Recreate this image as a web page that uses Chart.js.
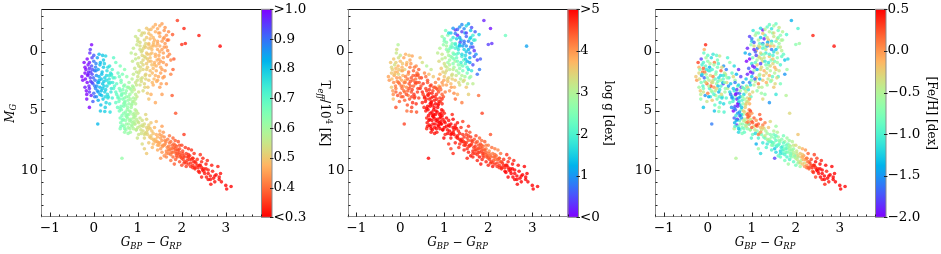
<!DOCTYPE html>
<html>
<head>
<meta charset="utf-8">
<script src="https://cdn.jsdelivr.net/npm/chart.js@4.4.1/dist/chart.umd.min.js"></script>
<style>
  html, body { margin: 0; padding: 0; background: #fff; }
  #wrap { position: relative; width: 941px; height: 254px; }
  canvas { position: absolute; left: 0; top: 0; }
</style>
</head>
<body>
<div id="wrap">
  <canvas id="teff-chart" width="941" height="254"></canvas>
  <canvas id="logg-chart" width="941" height="254"></canvas>
  <canvas id="feh-chart" width="941" height="254"></canvas>
</div>
<script>
// colour index G_BP - G_RP, one line per region of the diagram
const bpRp = [
  -0.05,-0.08,-0.15,-0.1,0.0,-0.2,-0.05,0.05,-0.12,-0.27,0.02,-0.08,0.06,-0.15,-0.02,-0.2,0.04,-0.1,-0.16,-0.1,0.0,-0.22,0.08,-0.04,0.09,-0.25,-0.06,0.1,-0.13,0.03,
  0.12,0.2,0.27,0.15,0.22,0.1,0.3,0.18,0.25,0.12,0.35,0.2,0.3,0.14,0.4,0.25,0.18,0.33,0.1,0.28,0.15,0.25,0.37,0.09,0.4,0.07,0.22,0.36,0.43,0.16,
  0.45,0.5,0.6,0.42,0.55,0.7,0.48,0.62,0.75,0.52,0.68,0.8,0.45,0.6,0.72,0.85,0.55,0.66,0.78,0.9,0.5,0.62,0.73,0.85,0.58,0.68,0.8,0.92,0.6,0.72,
  0.85,0.66,0.78,0.9,0.7,0.4,0.35,0.58,0.65,0.76,0.88,0.63,0.82,0.95,0.54,0.76,0.9,0.64,0.77,0.6,0.83,0.64,0.7,0.88,0.5,0.57,0.8,0.7,0.74,0.94,
  0.95,1.0,1.05,0.9,1.1,0.95,1.02,1.15,0.88,1.0,1.12,0.93,1.05,1.2,0.9,1.0,1.1,0.95,1.05,1.15,0.92,1.02,1.12,0.98,1.08,1.18,0.85,1.08,0.97,1.18,1.25,1.22,0.87,1.13,0.98,1.25,1.06,0.99,1.16,1.03,
  1.55,1.5,1.45,1.4,1.6,1.25,1.3,1.5,1.65,1.2,1.38,1.55,1.7,1.25,1.42,1.6,1.32,1.5,1.68,1.22,1.4,1.58,1.3,1.48,1.65,1.35,1.55,1.75,1.62,1.35,1.45,1.28,1.72,1.18,1.36,1.58,1.44,1.2,1.52,1.4,1.62,1.28,1.47,1.33,1.7,
  1.45,1.6,1.75,1.5,1.35,1.55,1.78,1.86,1.4,1.3,1.65,1.25,
  1.9,2.05,2.39,2.08,2.0,2.87,1.79,1.67,1.82,1.8,
  0.95,1.05,1.0,1.1,1.15,1.05,0.97,1.2,1.12,1.28,1.02,1.22,1.35,1.15,1.3,1.45,1.25,1.4,1.0,1.2,1.3,0.92,1.08,1.38,1.5,1.18,1.1,1.48,1.33,1.15,1.25,0.99,1.42,1.55,1.2,
  1.5,1.55,1.6,1.62,1.68,1.7,1.75,1.78,1.82,1.85,1.88,1.9,1.95,1.98,2.02,2.05,2.1,2.12,2.18,2.2,2.25,1.58,1.72,1.85,2.0,2.05,1.65,1.8,1.95,2.1,
  1.52,1.6,1.75,1.92,2.15,2.28,1.7,1.83,2.0,1.52,1.64,1.78,1.9,2.08,2.22,1.56,1.72,1.88,2.03,2.15,1.8,1.95,2.3,1.44,1.86,
  2.35,2.4,2.45,2.5,2.55,2.52,2.6,2.65,2.7,2.72,2.78,2.85,2.82,2.6,2.45,2.3,2.38,2.9,3.0,3.02,3.12,2.25,2.48,2.58,2.68,2.75,2.88,2.42,2.56,2.66,
  -0.18,-0.1,-0.03,0.02,-0.14,-0.07,0.0,-0.2,-0.11,-0.04,0.04,-0.17,-0.09,0.06,-0.02,
  0.14,0.24,0.32,0.19,0.29,0.38,0.12,0.23,0.34,0.44,0.17,0.27,0.39,0.47,0.21,0.31,0.42,0.52,0.26,0.36,
  0.62,0.7,0.79,0.87,0.95,0.66,0.74,0.83,0.91,0.59,0.68,0.77,0.86,0.94,0.63,0.72,0.81,0.89,0.97,0.67,0.75,0.84,0.92,0.61,0.69,0.79,0.87,0.96,0.73,0.82,
  1.05,1.15,1.25,1.35,1.45,1.1,1.2,1.3,1.4,1.5,1.02,1.12,1.22,1.32,1.42,1.52,1.08,1.18,1.28,1.38,1.48,1.58,1.15,1.25,1.35,
  1.02,1.12,1.22,1.32,1.42,1.52,1.62,1.72,1.82,1.92,2.02,2.12,2.22,2.32,2.42,1.07,1.17,1.27,1.37,1.47,1.57,1.67,1.77,1.87,1.97,2.07,2.17,2.27,2.37,2.47,
  1.35,1.45,1.55,1.65,1.75,1.85,1.95,2.05,2.15,2.25,
  1.0,1.1,1.2,1.3,1.4,1.5,1.6,1.05,1.15,1.25,1.35,1.45,1.55,1.65,0.95,1.08,1.18,1.28,1.38,1.48,1.58,1.68,1.02,1.12,1.22,1.32,1.42,1.52,1.62,0.97,
  1.07,1.17,1.27,1.37,1.47,1.57,1.23,1.33,1.43,1.53,
  0.58,0.66,0.74,0.82,0.9,0.55,0.63,0.71,0.79,0.87,0.95,0.6,0.68,0.76,0.84,0.92,0.65,0.73,0.81,0.89,0.97,0.62,0.7,0.78,0.86,
  1.0,1.1,1.2,1.3,1.4,1.5,1.6,1.7,1.8,1.9,2.0,2.1,2.2,2.3,2.4,2.5,2.6,1.15,1.25,1.35,1.45,1.55,1.65,1.75,1.85,1.95,2.05,2.15,2.25,2.35,
  2.45,2.55,2.65,2.75,2.85,
  -0.19,-0.13,-0.07,-0.01,0.05,0.11,0.17,0.23,0.29,0.35,-0.16,-0.1,-0.04,0.02,0.08,0.14,0.2,0.26,0.32,0.38
];
// absolute magnitude M_G
const mG = [
  -0.6,-0.2,0.6,0.9,0.8,1.3,1.2,1.0,1.7,2.1,1.6,2.2,2.0,2.6,2.7,3.0,3.1,3.4,4.0,4.7,0.3,0.9,0.5,1.9,2.6,2.4,3.7,3.4,1.1,2.4,
  0.2,0.3,0.35,0.9,1.3,1.5,1.6,1.9,2.2,2.4,2.3,2.7,2.9,3.0,3.1,3.4,3.7,3.8,4.1,4.3,5.0,5.05,5.1,6.1,1.9,2.9,0.7,1.2,2.6,4.5,
  0.5,0.9,1.2,1.5,1.8,1.5,2.2,2.4,2.1,2.7,2.9,2.6,3.1,3.3,3.5,3.2,3.8,4.0,4.1,3.9,4.3,4.6,4.5,4.7,5.0,5.2,5.3,5.2,5.6,5.8,
  5.9,6.2,6.4,6.5,6.8,2.0,2.7,2.1,1.9,3.0,2.9,3.7,3.6,4.4,4.7,4.9,5.6,5.4,5.6,6.5,6.8,9.0,4.3,4.2,3.4,4.2,4.4,3.9,6.1,6.1,
  -1.3,-0.9,-0.5,-0.3,-0.1,0.2,0.5,0.4,0.8,1.0,1.1,1.4,1.6,1.5,1.9,2.1,2.2,2.6,2.8,2.7,3.2,3.4,3.3,3.8,-1.4,-0.7,0.1,0.0,1.7,1.9,2.4,3.5,2.3,-0.3,-0.6,0.8,1.3,2.4,3.0,-1.8,
  -2.37,-2.2,-1.95,-1.7,-1.8,-1.85,-1.4,-1.3,-1.4,-1.2,-1.0,-0.9,-1.0,-0.7,-0.5,-0.4,-0.2,0.0,-0.1,0.2,0.4,0.5,0.8,1.0,1.1,1.4,1.5,0.7,-2.05,-2.1,-0.2,0.5,0.2,-0.4,-0.8,-1.1,0.7,1.0,1.8,2.0,-0.7,-1.1,-1.6,1.8,-1.7,
  2.4,2.1,1.9,3.0,2.8,3.6,3.7,5.2,4.3,3.6,2.7,4.0,
  -2.65,-1.97,-1.38,-0.7,-0.62,-0.48,-1.46,-0.99,0.6,1.5,
  5.4,5.6,5.9,5.8,6.1,6.3,6.6,6.4,6.7,6.5,7.0,7.0,6.9,7.3,7.3,7.2,7.7,7.6,5.2,5.7,6.0,6.1,6.9,6.4,6.7,5.3,7.8,7.9,8.1,8.2,6.2,7.3,5.9,6.3,8.6,
  7.0,7.5,7.2,7.8,7.4,8.0,7.6,8.2,7.8,8.4,8.0,8.6,8.2,8.8,8.4,8.9,8.6,9.2,8.8,9.4,9.0,6.8,7.1,7.5,7.9,7.0,8.4,8.9,9.3,9.7,
  8.2,8.8,9.2,7.6,8.2,8.6,8.6,9.5,9.6,9.0,7.6,7.9,8.3,8.1,8.3,8.0,8.3,8.8,9.1,9.5,7.3,7.9,9.3,7.6,9.1,
  9.1,9.6,9.3,9.9,9.5,10.3,10.0,10.5,10.1,10.7,10.4,10.8,9.7,10.8,10.6,9.8,10.1,11.0,11.3,11.6,11.4,9.6,9.0,9.2,9.6,11.0,10.3,8.7,10.6,11.2,
  1.5,1.4,1.5,2.9,2.0,2.5,3.5,1.8,2.9,0.5,1.3,3.3,0.1,3.8,4.2,
  1.1,1.0,1.3,1.7,2.0,1.8,2.1,2.5,2.6,2.2,3.3,3.2,3.4,2.9,4.0,3.6,3.9,3.6,4.7,4.4,
  2.6,2.8,3.0,3.4,3.6,3.5,3.8,4.0,4.2,4.0,4.4,4.7,4.5,4.9,4.9,5.1,5.0,5.3,5.0,5.7,5.5,5.7,5.9,6.0,6.3,6.1,6.3,6.6,6.6,6.5,
  -0.8,-1.0,-0.6,-1.2,-0.9,0.3,0.1,-0.4,0.2,-0.5,1.2,0.7,0.6,0.1,1.2,0.8,2.5,2.3,1.6,1.1,0.3,0.1,-1.6,-1.55,-0.5,
  6.0,6.3,6.6,6.7,7.0,7.3,7.5,7.7,8.1,8.3,8.6,8.9,9.1,9.4,9.6,6.6,6.9,7.2,7.5,7.7,7.9,8.1,8.5,8.6,8.9,9.3,9.1,9.3,9.8,10.0,
  7.8,8.3,8.5,8.9,8.7,8.2,8.5,9.4,8.7,9.8,
  -1.1,-1.6,-2.0,-1.9,-2.3,-1.6,-1.2,-0.2,-0.5,-0.3,-0.6,-0.7,-0.2,-0.4,0.6,0.9,0.5,0.2,0.9,0.6,0.9,0.4,1.8,1.5,1.3,1.1,1.6,1.3,1.6,2.8,
  2.3,2.0,2.0,2.3,2.1,2.2,3.0,2.6,2.5,2.7,
  3.1,3.2,3.3,3.1,3.0,3.9,3.6,4.2,3.8,4.4,4.0,4.8,4.6,5.3,5.1,5.5,5.8,5.4,5.8,6.0,5.7,6.3,6.5,6.9,6.2,
  6.4,6.2,6.8,7.1,7.4,7.7,7.9,8.3,8.5,8.9,9.0,9.4,9.7,9.9,10.2,10.1,10.3,7.0,6.4,7.4,7.9,7.1,8.6,8.2,7.9,8.7,8.8,8.9,9.0,9.6,
  9.8,9.9,10.8,10.5,10.6,
  2.3,1.9,1.7,2.2,1.6,2.6,2.3,2.9,2.4,2.0,3.6,3.1,2.6,3.8,3.3,3.6,3.1,3.8,3.9,2.6
];
// T_eff / 10^4 K
const teff = [
  1.0,0.95,1.0,0.98,0.9,1.0,0.93,0.88,0.97,1.0,0.9,0.95,0.87,1.0,0.92,0.98,0.88,0.96,1.0,1.0,0.92,1.0,0.85,0.94,0.86,1.0,0.97,0.85,0.99,0.9,
  0.82,0.8,0.78,0.82,0.8,0.84,0.77,0.81,0.79,0.83,0.76,0.8,0.78,0.82,0.75,0.79,0.81,0.77,0.83,0.78,0.8,0.79,0.77,0.82,0.76,0.85,0.8,0.76,0.74,0.81,
  0.7,0.68,0.66,0.71,0.68,0.64,0.7,0.66,0.63,0.69,0.65,0.61,0.71,0.67,0.64,0.6,0.68,0.65,0.62,0.59,0.69,0.66,0.63,0.6,0.67,0.64,0.61,0.58,0.66,0.63,
  0.6,0.64,0.61,0.58,0.62,0.72,0.73,0.68,0.66,0.63,0.59,0.66,0.61,0.58,0.68,0.62,0.58,0.65,0.62,0.65,0.6,0.62,0.64,0.6,0.69,0.67,0.62,0.64,0.62,0.57,
  0.55,0.54,0.53,0.56,0.52,0.55,0.54,0.52,0.56,0.54,0.52,0.55,0.53,0.51,0.56,0.54,0.53,0.55,0.54,0.52,0.56,0.54,0.53,0.55,0.53,0.52,0.57,0.53,0.55,0.51,0.5,0.5,0.57,0.52,0.55,0.5,0.53,0.55,0.52,0.54,
  0.45,0.46,0.46,0.47,0.44,0.49,0.48,0.46,0.44,0.5,0.47,0.45,0.43,0.49,0.47,0.44,0.48,0.46,0.43,0.5,0.47,0.45,0.48,0.46,0.44,0.48,0.45,0.42,0.44,0.47,0.46,0.49,0.43,0.5,0.48,0.45,0.47,0.5,0.45,0.47,0.44,0.48,0.46,0.48,0.43,
  0.46,0.44,0.42,0.45,0.47,0.45,0.38,0.37,0.46,0.47,0.44,0.49,
  0.35,0.33,0.32,0.33,0.34,0.3,0.38,0.4,0.38,0.39,
  0.57,0.55,0.56,0.54,0.53,0.55,0.56,0.52,0.53,0.5,0.55,0.51,0.49,0.52,0.49,0.47,0.5,0.47,0.56,0.52,0.5,0.57,0.54,0.48,0.46,0.52,0.53,0.46,0.48,0.51,0.51,0.55,0.48,0.45,0.5,
  0.45,0.44,0.43,0.42,0.41,0.41,0.4,0.39,0.39,0.38,0.38,0.37,0.37,0.36,0.36,0.35,0.35,0.35,0.34,0.34,0.34,0.44,0.41,0.38,0.36,0.35,0.42,0.39,0.37,0.35,
  0.44,0.43,0.4,0.37,0.34,0.34,0.41,0.38,0.36,0.44,0.42,0.39,0.37,0.35,0.34,0.44,0.41,0.38,0.36,0.35,0.39,0.37,0.33,0.46,0.38,
  0.34,0.33,0.33,0.33,0.32,0.32,0.32,0.32,0.32,0.31,0.31,0.31,0.32,0.31,0.32,0.33,0.32,0.31,0.3,0.3,0.3,0.34,0.33,0.33,0.32,0.31,0.31,0.34,0.32,0.31,
  1.0,0.97,0.93,0.89,0.99,0.95,0.91,1.0,0.97,0.94,0.88,1.0,0.96,0.86,0.92,
  0.82,0.79,0.77,0.81,0.78,0.75,0.83,0.8,0.76,0.72,0.82,0.79,0.75,0.71,0.8,0.77,0.73,0.69,0.79,0.76,
  0.65,0.63,0.61,0.59,0.57,0.64,0.62,0.6,0.58,0.66,0.64,0.62,0.6,0.58,0.65,0.63,0.61,0.59,0.57,0.64,0.62,0.6,0.58,0.65,0.63,0.61,0.59,0.57,0.62,0.6,
  0.53,0.52,0.49,0.48,0.46,0.52,0.5,0.48,0.47,0.46,0.54,0.52,0.5,0.48,0.47,0.45,0.53,0.52,0.49,0.48,0.46,0.45,0.52,0.49,0.48,
  0.55,0.53,0.51,0.49,0.47,0.45,0.43,0.41,0.39,0.37,0.36,0.35,0.34,0.33,0.32,0.54,0.52,0.5,0.48,0.46,0.44,0.42,0.4,0.38,0.37,0.35,0.34,0.33,0.32,0.31,
  0.48,0.46,0.44,0.42,0.4,0.38,0.37,0.35,0.34,0.33,
  0.54,0.52,0.5,0.48,0.47,0.45,0.44,0.54,0.52,0.5,0.48,0.46,0.45,0.44,0.56,0.53,0.52,0.49,0.47,0.46,0.45,0.43,0.54,0.52,0.5,0.49,0.47,0.46,0.44,0.55,
  0.54,0.52,0.5,0.48,0.46,0.45,0.5,0.48,0.47,0.45,
  0.67,0.65,0.63,0.61,0.59,0.68,0.66,0.64,0.62,0.6,0.58,0.66,0.65,0.63,0.61,0.59,0.65,0.63,0.61,0.59,0.57,0.66,0.64,0.62,0.6,
  0.56,0.54,0.52,0.5,0.48,0.46,0.44,0.42,0.4,0.38,0.36,0.35,0.34,0.33,0.32,0.32,0.31,0.53,0.51,0.49,0.47,0.45,0.43,0.41,0.39,0.37,0.36,0.35,0.34,0.33,
  0.32,0.32,0.31,0.31,0.31,
  1.0,0.98,0.95,0.91,0.87,0.83,0.81,0.79,0.77,0.75,1.0,0.97,0.94,0.9,0.86,0.82,0.8,0.78,0.76,0.74
];
// surface gravity log g [dex]
const logg = [
  3.0,3.3,3.6,3.5,3.7,3.4,3.8,3.6,3.7,3.9,3.5,4.0,3.8,4.1,4.2,3.6,4.3,4.4,3.7,4.5,3.2,3.6,3.9,3.4,4.2,4.0,4.5,4.3,3.3,3.9,
  3.8,3.6,3.9,3.7,4.2,3.5,4.4,4.0,4.5,3.8,4.3,4.5,4.4,4.1,4.6,4.5,4.2,4.6,4.4,4.7,4.3,4.4,4.5,4.6,4.3,4.0,3.9,4.1,4.5,4.5,
  3.6,3.3,3.0,4.4,4.1,3.2,4.6,4.5,3.6,4.7,4.6,4.2,4.8,4.7,4.8,4.4,4.9,4.8,4.9,4.6,4.8,5.0,4.9,5.0,4.9,5.0,5.0,5.0,4.8,5.0,
  5.0,4.9,5.0,5.0,4.9,4.5,4.4,4.3,3.7,4.5,3.8,4.9,4.7,4.8,4.8,5.0,5.0,5.0,5.0,4.8,4.9,5.0,5.0,4.8,4.8,4.9,5.0,4.8,5.0,5.0,
  2.8,2.5,2.9,3.0,2.7,3.2,3.1,2.6,3.4,3.3,3.0,3.6,3.4,3.1,3.8,3.6,3.5,4.0,3.9,3.7,4.3,4.2,4.0,4.5,2.6,2.4,3.1,2.9,3.5,3.3,3.6,4.1,4.1,2.3,2.7,2.9,3.2,3.9,4.0,2.4,
  1.2,1.6,0.9,0.4,1.4,0.3,0.2,0.6,1.9,1.8,1.3,0.8,2.1,2.0,1.1,0.7,1.7,1.4,0.3,2.2,1.9,1.2,2.4,2.0,0.5,2.6,1.6,0.4,0.5,1.0,1.5,2.3,1.0,2.1,0.5,1.7,2.2,2.6,2.4,3.0,1.0,1.5,1.1,2.8,0.6,
  3.4,2.8,0.7,3.6,3.3,3.5,4.3,4.6,4.2,3.8,3.1,4.3,
  0.2,0.1,2.3,0.3,0.4,1.1,1.5,1.8,0.6,0.8,
  5.0,5.0,5.0,4.9,5.0,5.0,4.9,5.0,5.0,4.9,4.8,5.0,4.8,4.9,5.0,4.7,4.8,4.9,4.8,5.0,4.9,5.0,5.0,4.7,4.6,4.8,4.7,4.8,4.7,4.6,4.9,5.0,4.6,4.7,4.8,
  4.6,4.5,4.7,4.6,4.5,4.7,4.4,4.6,4.5,4.7,4.3,4.6,4.2,4.5,4.1,4.3,4.2,4.5,4.3,4.6,4.4,4.5,4.6,4.3,4.2,4.5,4.8,4.9,4.8,4.9,
  4.8,4.9,4.8,4.4,4.2,4.3,4.7,4.9,4.8,4.8,4.6,4.5,4.4,4.3,4.1,4.7,4.7,4.6,4.6,4.7,4.4,4.2,4.5,4.7,4.8,
  4.7,4.9,4.8,5.0,4.9,5.0,5.0,5.0,5.0,5.0,5.0,5.0,5.0,5.0,5.0,4.9,5.0,5.0,5.0,5.0,5.0,4.7,4.6,4.8,4.9,5.0,5.0,4.7,5.0,5.0,
  3.5,3.7,3.6,4.3,3.9,4.1,4.4,3.6,4.2,3.3,3.8,4.0,3.2,4.5,4.4,
  3.9,4.0,4.2,4.3,4.4,4.3,4.2,4.5,4.6,4.4,4.4,4.6,4.6,4.5,4.5,4.7,4.6,4.6,4.6,4.7,
  4.5,4.6,4.4,4.5,4.4,4.8,4.9,4.8,4.7,4.8,5.0,5.0,5.0,5.0,5.0,5.0,5.0,5.0,4.9,5.0,5.0,5.0,5.0,4.9,5.0,5.0,5.0,5.0,5.0,5.0,
  2.6,2.2,1.9,1.1,0.7,2.9,2.5,1.8,1.6,1.0,3.2,2.8,2.4,2.0,2.3,1.3,3.7,3.5,2.9,2.5,1.6,0.9,1.4,0.8,1.2,
  4.9,4.9,4.9,4.8,4.7,4.6,4.6,4.5,4.5,4.4,4.3,4.4,4.5,4.7,4.9,4.9,4.9,4.8,4.8,4.7,4.7,4.6,4.7,4.6,4.5,4.6,4.3,4.5,4.8,4.9,
  4.7,4.8,4.8,4.8,4.7,4.4,4.4,4.7,4.3,4.7,
  2.4,1.6,1.0,0.6,0.9,0.4,1.5,2.6,2.3,2.0,1.4,0.8,1.2,0.5,3.1,2.8,2.6,2.2,1.9,1.5,1.1,0.6,3.4,3.1,2.9,2.6,2.4,2.0,1.8,3.9,
  3.5,3.3,3.2,3.0,2.9,2.7,3.8,3.4,3.3,3.1,
  4.6,4.7,4.6,4.5,4.3,4.8,4.8,4.9,4.8,4.9,4.7,5.0,5.0,5.0,5.0,5.0,5.0,5.0,5.0,5.0,4.9,4.9,5.0,4.9,5.0,
  5.0,5.0,4.9,4.9,4.8,4.7,4.7,4.6,4.6,4.6,4.5,4.6,4.7,4.8,5.0,4.9,5.0,5.0,4.9,4.8,4.7,4.6,4.7,4.5,4.4,4.4,4.3,4.3,4.4,4.8,
  4.9,5.0,5.0,5.0,5.0,
  3.7,3.6,3.8,4.0,3.9,4.2,4.3,4.4,4.4,4.5,4.1,4.2,4.3,4.4,4.3,4.5,4.5,4.6,4.6,4.5
];
// metallicity [Fe/H] [dex]
const feh = [
  0.4,-0.1,-1.8,-1.0,-0.7,-0.1,-0.9,-0.5,0.1,-0.2,-1.1,-1.7,-0.3,-0.8,0.2,-0.6,-1.0,-0.4,-0.7,-1.3,-0.9,0.3,-1.2,-0.6,-0.2,0.0,-1.5,-0.8,-1.0,-0.5,
  -1.1,-0.9,-0.4,0.1,-0.8,-1.0,0.2,-0.6,-1.2,-0.3,-0.9,-0.6,-1.0,0.0,-0.7,-1.4,-0.5,-0.9,-0.2,-1.1,-1.3,-0.7,-1.0,-1.6,-0.4,0.3,-0.8,-1.5,-0.3,-0.9,
  -1.0,-0.7,-1.2,-1.6,-0.9,-1.9,-1.0,-0.6,-1.8,-1.3,-0.8,-1.5,-0.5,-1.1,-1.7,-0.4,-1.4,-1.9,-1.0,-0.3,-0.9,-1.8,-1.3,-0.2,-2.0,-1.5,-0.6,0.1,-1.7,-1.0,
  -0.4,-1.9,-0.8,-0.7,-1.2,-0.6,-1.8,-0.3,-1.4,-1.9,-0.9,-0.7,-1.2,-0.1,-1.5,-0.9,0.0,-1.1,-1.6,-0.5,-0.9,-0.5,-1.6,-0.5,-1.2,-1.0,-0.7,-1.4,-0.6,0.2,
  -1.8,-1.2,-0.3,-1.9,-0.1,-1.5,-0.8,-0.4,-2.0,-1.1,-0.2,-1.7,-0.6,-0.3,-1.9,-1.3,-0.1,-1.6,-0.5,0.1,-1.1,-0.3,-0.7,-0.9,-0.5,-0.9,-1.4,-1.7,-2.0,-0.4,-0.2,-0.6,-1.3,-1.6,-0.7,-0.3,-1.9,-0.8,-0.4,-1.1,
  -0.9,-0.6,-1.1,-0.5,-0.8,-2.0,-1.0,-0.4,-0.7,-1.3,-0.2,-0.9,-0.6,-1.6,-0.1,-0.8,-0.4,-1.2,-0.5,-0.9,-0.2,-0.7,-1.1,-0.3,-1.0,-0.6,-0.2,-1.3,-0.4,-0.9,-1.6,-0.4,-0.9,-0.2,-1.4,-0.3,-0.8,-1.8,-0.5,-0.1,-0.6,-1.9,-0.7,-0.3,-0.5,
  -0.4,-1.0,-1.5,-0.2,-0.6,-1.1,-0.5,-0.3,-1.5,-0.7,-0.8,-0.3,
  -1.4,-1.0,0.4,-0.6,-0.7,0.45,-1.0,-0.5,-1.2,-0.6,
  0.1,0.2,0.3,0.0,0.2,-0.3,-0.6,-0.2,-0.7,-0.4,-0.9,-0.8,-0.6,-1.0,-0.9,-0.7,-1.1,-0.8,0.0,0.3,0.1,-0.8,-1.2,-0.2,-0.5,0.2,-1.4,-0.9,-1.0,-0.6,0.1,-1.0,-0.3,-0.6,-1.2,
  -0.8,-0.9,-0.6,-1.0,-0.7,-0.9,-0.6,-1.1,-0.8,-0.7,-0.5,-0.9,-0.6,-1.0,-0.4,-0.7,-0.2,-0.5,0.0,-0.3,0.1,-0.5,-0.8,-0.6,-0.3,-0.2,-1.2,-1.0,-0.9,-0.6,
  -1.3,-0.9,-0.8,-0.5,-0.1,0.2,-1.0,-0.6,-0.8,-1.8,-0.7,-0.9,-0.7,-0.3,0.0,-1.1,-0.8,-0.9,-0.4,-0.2,-0.6,-0.4,0.2,-0.9,-1.0,
  0.3,0.4,0.5,0.4,0.5,0.45,0.5,0.5,0.4,0.5,0.5,0.5,0.5,0.4,0.3,0.3,0.2,0.5,0.5,0.5,0.5,0.0,0.3,0.4,0.5,0.45,0.5,0.3,0.5,0.4,
  -0.7,0.2,-1.1,-0.5,-1.6,-0.8,0.1,-0.3,-1.0,-0.6,-1.4,-0.2,-0.9,-1.1,-0.4,
  -0.6,-1.0,-0.3,-0.8,-1.2,-0.5,0.1,-0.9,-1.3,-0.7,-0.4,-1.1,-0.6,-1.5,-0.8,-0.3,-1.0,-1.6,-0.7,-1.2,
  -1.6,-1.2,-0.8,-0.5,-0.2,-1.8,-1.4,-0.6,-0.3,-1.1,-2.0,-1.3,-0.4,0.1,-1.7,-1.5,-0.2,0.2,0.3,-1.9,-1.1,-0.5,0.0,-1.4,-0.9,-0.7,-0.3,-0.6,-1.0,-0.8,
  -1.7,-0.5,-0.9,-0.4,-1.2,-1.8,-0.3,-0.7,-1.0,-0.2,-1.9,-0.6,-0.4,-1.1,-0.3,-0.8,-0.5,-1.3,-0.1,-0.6,-1.0,-0.4,-0.8,-0.2,-1.5,
  0.2,0.1,-0.3,-0.5,-0.7,-0.8,-0.7,-0.9,-0.8,-0.6,-0.4,-0.2,0.0,0.3,0.4,-0.4,-0.6,-0.8,-0.9,-1.0,-0.9,-1.1,-0.8,-0.7,-0.6,-0.4,-0.1,0.1,0.4,0.5,
  -1.1,-1.0,-1.2,-0.9,-1.0,-0.6,-0.5,-0.6,-0.2,0.2,
  -1.6,-0.7,-1.2,-0.5,-0.9,-0.3,-0.8,-1.9,-0.4,-1.0,-0.2,-0.6,-1.3,-0.4,-2.0,-0.9,-0.3,-0.7,-1.1,-0.2,-0.6,-0.9,-1.8,-1.4,-0.3,-0.8,-0.5,-0.1,-0.4,-1.2,
  -1.7,-0.6,-0.2,-0.4,-0.9,-0.3,-0.5,-0.1,-0.7,-0.3,
  -1.3,-1.8,-0.6,-0.9,-0.3,-1.5,-2.0,-1.1,-0.7,-0.2,0.0,-1.6,-1.9,-1.2,-0.3,0.2,-1.4,-1.7,-0.5,0.1,-0.4,-1.0,-1.3,-0.8,-0.6,
  0.2,0.3,0.0,-0.4,-0.6,-0.8,-0.9,-1.0,-0.8,-0.7,-0.5,-0.3,0.0,0.2,0.4,0.5,0.5,0.1,-0.2,-0.5,-0.7,-0.9,-1.1,-0.8,-0.6,-0.5,-0.3,-0.1,0.1,0.3,
  0.4,0.5,0.5,0.5,0.5,
  -0.3,-1.2,0.1,-0.7,-1.0,-0.4,-0.9,-1.3,-0.6,-1.1,-0.5,-0.8,-0.2,-1.4,-0.6,-1.0,-0.3,-0.9,-1.2,-0.7
];

const xTicks = [-1, 0, 1, 2, 3];
const yTicks = [0, 5, 10];
const teffTicks = [0.3, 0.4, 0.5, 0.6, 0.7, 0.8, 0.9, 1.0];
const teffTickLabels = ['<0.3', '0.4', '0.5', '0.6', '0.7', '0.8', '0.9', '>1.0'];
const loggTicks = [0, 1, 2, 3, 4, 5];
const loggTickLabels = ['<0', '1', '2', '3', '4', '>5'];
const fehTicks = [-2.0, -1.5, -1.0, -0.5, 0.0, 0.5];
const fehTickLabels = ['\u22122.0', '\u22121.5', '\u22121.0', '\u22120.5', '0.0', '0.5'];

const FONT = 'DejaVu Serif';
const PLOT_TOP = 9.3;
const PLOT_BOTTOM = 217.3;
const PLOT_W = 220;
const CB_W = 11;

// matplotlib 'rainbow'
function rainbow(t) {
  t = Math.min(1, Math.max(0, t));
  const r = Math.min(1, Math.abs(2 * t - 0.5));
  const g = Math.sin(Math.PI * t);
  const b = Math.cos(Math.PI * t / 2);
  return [r, g, b].map((c) => Math.round(c * 255));
}

function colorFor(panel, v, alpha) {
  let t = (v - panel.min) / (panel.max - panel.min);
  if (panel.reversed) t = 1 - t;
  const [r, g, b] = rainbow(t);
  return `rgba(${r},${g},${b},${alpha})`;
}

function drawRich(ctx, parts, x, y, rot) {
  ctx.save();
  ctx.translate(x, y);
  ctx.rotate(rot);
  ctx.fillStyle = '#000';
  ctx.textBaseline = 'alphabetic';
  ctx.textAlign = 'left';
  let total = 0;
  parts.forEach((p) => {
    ctx.font = `${p[2]} ${p[1]}px "${FONT}"`;
    total += ctx.measureText(p[0]).width;
  });
  let cx = -total / 2;
  parts.forEach((p) => {
    ctx.font = `${p[2]} ${p[1]}px "${FONT}"`;
    ctx.fillText(p[0], cx, p[3]);
    cx += ctx.measureText(p[0]).width;
  });
  ctx.restore();
}

function line(ctx, x1, y1, x2, y2) {
  ctx.beginPath();
  ctx.moveTo(x1, y1);
  ctx.lineTo(x2, y2);
  ctx.stroke();
}

const xLabel = [['G', 12, 'italic', 0], ['BP', 8.4, 'italic', 2.6], [' \u2212 ', 12, 'normal', 0], ['G', 12, 'italic', 0], ['RP', 8.4, 'italic', 2.6]];
const yLabel = [['M', 12, 'italic', 0], ['G', 8.4, 'italic', 2.6]];

const panels = [
  {
    canvas: 'teff-chart', left: 41, values: teff, min: 0.3, max: 1.0, reversed: true,
    ticks: teffTicks, labels: teffTickLabels, titleDx: 48.5, showYLabel: true,
    title: [['T', 12, 'normal', 0], ['eff', 8.4, 'italic', 2.5], ['/10', 12, 'normal', 0], ['4', 8.4, 'normal', -5], [' [K]', 12, 'normal', 0]],
  },
  {
    canvas: 'logg-chart', left: 347.5, values: logg, min: 0, max: 5, reversed: false,
    ticks: loggTicks, labels: loggTickLabels, titleDx: 26, showYLabel: false,
    title: [['log g [dex]', 12, 'normal', 0]],
  },
  {
    canvas: 'feh-chart', left: 655, values: feh, min: -2.0, max: 0.5, reversed: false,
    ticks: fehTicks, labels: fehTickLabels, titleDx: 41.6, showYLabel: false,
    title: [['[Fe/H] [dex]', 12, 'normal', 0]],
  },
];

const framePlugin = {
  id: 'frame',
  afterDraw(chart) {
    const panel = chart.config.options.panel;
    const { ctx, chartArea: a, scales } = chart;
    const xs = scales.x, ys = scales.y, cs = scales.cb;
    ctx.save();
    ctx.lineWidth = 1;

    // colour bar
    const grad = ctx.createLinearGradient(0, a.bottom, 0, a.top);
    for (let k = 0; k <= 40; k++) {
      const f = k / 40;
      grad.addColorStop(f, colorFor(panel, panel.min + f * (panel.max - panel.min), 1));
    }
    ctx.fillStyle = grad;
    ctx.fillRect(a.right, a.top, CB_W, a.bottom - a.top);
    ctx.strokeStyle = '#8c8c8c';
    ctx.strokeRect(a.right + 0.5, a.top, CB_W - 0.5, a.bottom - a.top);
    ctx.strokeStyle = '#222';
    panel.ticks.forEach((v) => {
      const py = Math.round(cs.getPixelForValue(v)) + 0.5;
      line(ctx, a.right + CB_W - 2, py, a.right + CB_W + 1.5, py);
    });

    // spines
    const L = Math.round(a.left) + 0.5, B = Math.round(a.bottom) - 0.5, T = Math.round(a.top) + 0.5;
    ctx.strokeStyle = '#111';
    line(ctx, a.left, T, a.right, T);
    ctx.strokeStyle = '#8c8c8c';
    line(ctx, L, a.top, L, a.bottom);
    line(ctx, a.left, B, a.right, B);

    // inward ticks
    ctx.strokeStyle = '#222';
    for (let v = -1.2; v <= 3.81; v += 0.2) {
      const px = Math.round(xs.getPixelForValue(v)) + 0.5;
      line(ctx, px, B, px, B - 2);
    }
    xTicks.forEach((v) => {
      const px = Math.round(xs.getPixelForValue(v)) + 0.5;
      line(ctx, px, B, px, B - 4);
    });
    for (let v = -3; v <= 13; v += 1) {
      const py = Math.round(ys.getPixelForValue(v)) + 0.5;
      line(ctx, L, py, L + 2, py);
    }
    yTicks.forEach((v) => {
      const py = Math.round(ys.getPixelForValue(v)) + 0.5;
      line(ctx, L, py, L + 4, py);
    });
    ctx.restore();

    // axis titles
    const midY = (a.top + a.bottom) / 2;
    drawRich(ctx, xLabel, (a.left + a.right) / 2, 246, 0);
    if (panel.showYLabel) drawRich(ctx, yLabel, 13.5, midY, -Math.PI / 2);
    drawRich(ctx, panel.title, a.right + CB_W + panel.titleDx, midY, Math.PI / 2);
  },
};

const tickFont = { family: FONT, size: 13.5 };
const minus = (v) => (v < 0 ? '\u2212' + Math.abs(v) : String(v));
// tick labels may overhang the plot edges, as in matplotlib
const noEdgePad = (s) => { s.paddingTop = 0; s.paddingBottom = 0; s.paddingLeft = 0; s.paddingRight = 0; };

// nudge the layout padding until the plot area sits where the reference has it
function pinArea(chart, panel) {
  for (let k = 0; k < 3; k++) {
    const a = chart.chartArea;
    const p = chart.config.options.layout.padding;
    chart.config.options.layout.padding = {
      top: p.top + (PLOT_TOP - a.top),
      bottom: p.bottom + (a.bottom - PLOT_BOTTOM),
      left: p.left + (panel.left - a.left),
      right: p.right + (a.right - (panel.left + PLOT_W)),
    };
    chart.update();
  }
}

panels.forEach((panel) => {
  const ctx = document.getElementById(panel.canvas).getContext('2d');
  const chart = new Chart(ctx, {
    type: 'scatter',
    data: {
      datasets: [
        {
          data: bpRp.map((x, i) => ({ x, y: mG[i] })),
          pointBackgroundColor: panel.values.map((v) => colorFor(panel, v, 0.78)),
          pointBorderWidth: 0,
          pointRadius: 1.8,
          pointHoverRadius: 1.8,
        },
      ],
    },
    options: {
      panel,
      responsive: false,
      animation: false,
      devicePixelRatio: 1,
      events: [],
      layout: {
        padding: {
          left: panel.left - 30,
          right: 941 - (panel.left + PLOT_W) - 60,
          top: PLOT_TOP,
          bottom: 254 - PLOT_BOTTOM - 30,
        },
      },
      plugins: { legend: { display: false }, tooltip: { enabled: false } },
      scales: {
        x: {
          type: 'linear',
          min: -1.2,
          max: 3.8,
          afterBuildTicks: (s) => { s.ticks = xTicks.map((v) => ({ value: v })); },
          afterFit: (s) => { s.height = 30; noEdgePad(s); },
          grid: { display: false, drawTicks: false },
          border: { display: false },
          ticks: { autoSkip: false, maxRotation: 0, padding: 3, font: tickFont, color: '#000', callback: (v) => minus(v) },
        },
        y: {
          type: 'linear',
          min: -3.6,
          max: 14,
          reverse: true,
          afterBuildTicks: (s) => { s.ticks = yTicks.map((v) => ({ value: v })); },
          afterFit: (s) => { s.width = 30; noEdgePad(s); },
          grid: { display: false, drawTicks: false },
          border: { display: false },
          ticks: { autoSkip: false, padding: 3, font: tickFont, color: '#000', callback: (v) => minus(v) },
        },
        cb: {
          type: 'linear',
          axis: 'y',
          position: 'right',
          min: panel.min,
          max: panel.max,
          afterBuildTicks: (s) => { s.ticks = panel.ticks.map((v) => ({ value: v })); },
          afterFit: (s) => { s.width = 60; noEdgePad(s); },
          grid: { display: false, drawTicks: false },
          border: { display: false },
          ticks: { autoSkip: false, padding: CB_W + 1.5, font: tickFont, color: '#000', callback: (v, i) => panel.labels[i] },
        },
      },
    },
    plugins: [framePlugin],
  });
  pinArea(chart, panel);
});
</script>
</body>
</html>
